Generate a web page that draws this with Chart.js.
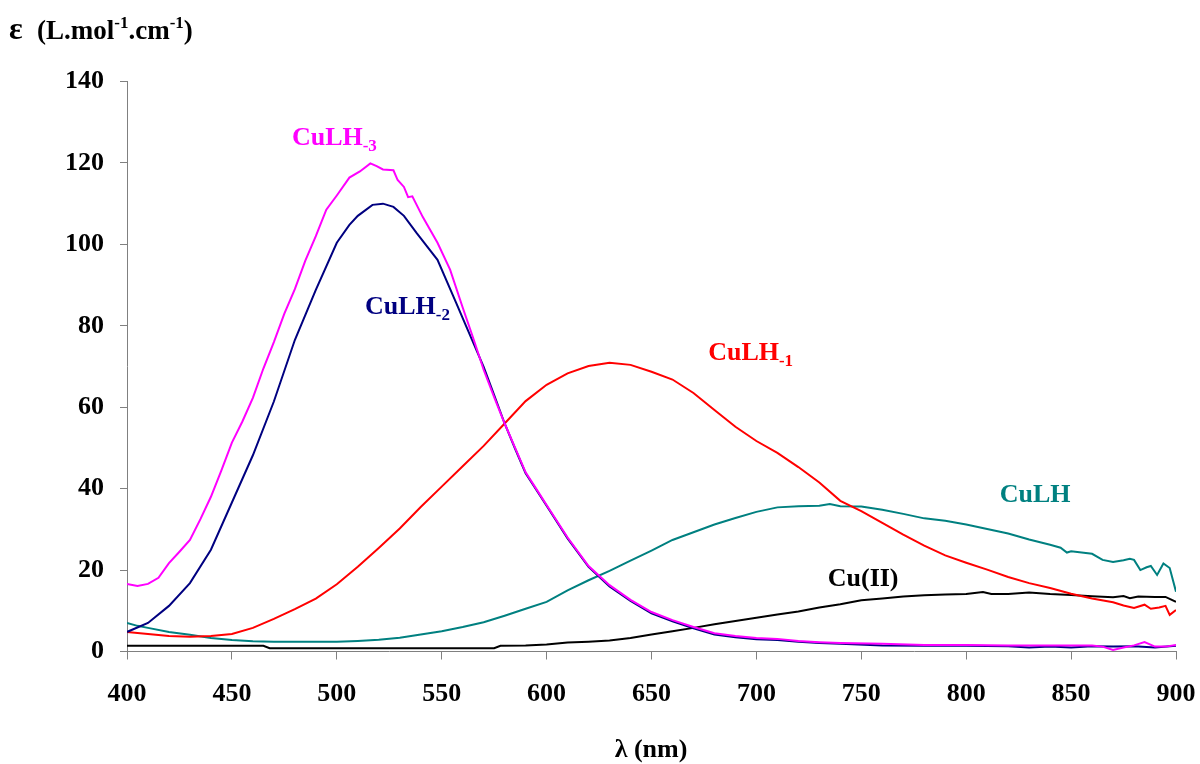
<!DOCTYPE html>
<html>
<head>
<meta charset="utf-8">
<script src="https://cdn.jsdelivr.net/npm/chart.js@4/dist/chart.umd.min.js"></script>
<style>
  html, body { margin: 0; padding: 0; background: #fff; }
  canvas { display: block; }
</style>
</head>
<body>
<canvas id="chart" width="1200" height="764"></canvas>
<script>
// ── Data ─────────────────────────────────────────────────────────────────────
const xTicks = [400, 450, 500, 550, 600, 650, 700, 750, 800, 850, 900];
const yTicks = [0, 20, 40, 60, 80, 100, 120, 140];

const culh3Nm  = [400,405,410,415,420,425,430,435,440,445,450,455,460,465,470,475,480,485,490,495,500,506,511,516,519,522,527,529,532,534,536,541,548,554,560,565,570,575,580,585,590,595,600,610,620,630,640,650,660,670,680,690,700,710,720,730,740,760,780,800,820,840,860,865,870,875,880,885,890,895,900];
const culh3Eps = [16.6,16.1,16.6,18.1,21.7,24.5,27.4,32.5,38,44.5,51.3,56.5,62.3,69.5,76,83,89,96,102,108.5,112,116.4,117.9,119.9,119.2,118.4,118.2,115.8,114.1,111.6,111.8,106.7,100.4,93.8,84.5,77,69.2,62.5,56,50,44,40,36,28,21,16.3,12.7,9.7,7.7,6,4.5,3.8,3.3,3.1,2.6,2.3,2.1,1.9,1.6,1.6,1.5,1.5,1.5,1.2,0.4,1.0,1.5,2.3,1.2,1.2,1.6];

const culh2Nm  = [400,410,420,430,440,450,460,470,480,490,500,506,510,517,522,527,532,538,548,557,562,570,575,580,585,590,595,600,610,620,630,640,650,660,670,680,690,700,710,720,730,740,760,780,800,820,830,840,850,860,870,880,890,900];
const culh2Eps = [4.8,7,11.2,16.8,25,36.6,48.2,61.4,76.5,88.8,100.4,104.8,107,109.7,110,109.2,107,102.8,96.2,85.5,79.5,69.9,63,56,49.8,43.8,39.8,35.8,27.8,20.8,16,12.4,9.4,7.4,5.7,4.2,3.5,3,2.8,2.4,2.1,1.9,1.5,1.4,1.4,1.3,1.0,1.2,1.0,1.3,1.2,1.3,1.0,1.4];

const culh1Nm  = [400,410,420,430,440,450,460,470,480,490,500,510,520,530,540,550,560,570,580,590,600,610,620,630,640,650,660,670,680,690,700,710,720,730,740,750,760,770,780,790,800,810,820,830,840,850,860,870,875,880,885,888,892,895,897,900];
const culh1Eps = [4.8,4.3,3.8,3.6,3.8,4.3,5.8,8,10.4,13,16.5,20.8,25.4,30.2,35.5,40.5,45.5,50.5,56,61.5,65.5,68.3,70.1,70.9,70.4,68.7,66.8,63.5,59.3,55.2,51.7,48.8,45.3,41.5,37,34.5,31.6,28.7,26,23.6,21.8,20.1,18.3,16.8,15.6,14.2,13,12.1,11.3,10.7,11.5,10.5,10.8,11.2,9.0,10.2];

const culhNm  = [400,405,410,420,430,440,450,460,470,480,490,500,510,520,530,540,550,560,570,580,590,600,610,620,630,640,650,660,670,680,690,700,710,720,730,735,740,750,760,770,780,790,800,810,820,830,840,845,848,850,860,865,870,875,878,880,883,886,888,891,894,897,900];
const culhEps = [7,6.3,5.8,4.8,4.1,3.3,2.8,2.5,2.4,2.4,2.4,2.4,2.6,2.9,3.4,4.2,5,6,7.2,8.8,10.5,12.2,15,17.5,19.8,22.3,24.8,27.4,29.3,31.2,32.8,34.3,35.4,35.7,35.8,36.2,35.7,35.6,34.8,33.8,32.7,32.1,31.2,30.1,29,27.5,26.2,25.5,24.3,24.6,24,22.5,22,22.4,22.8,22.5,20,20.7,21,18.8,21.6,20.5,14.7];

const cuNm  = [400,465,468,575,578,590,600,610,620,630,640,650,660,670,680,690,700,710,720,730,740,750,760,770,780,790,800,808,812,820,830,840,850,860,870,875,878,882,890,895,900];
const cuEps = [1.4,1.4,0.8,0.8,1.4,1.5,1.7,2.2,2.4,2.7,3.3,4.2,5,5.8,6.7,7.5,8.3,9.1,9.8,10.8,11.6,12.6,13,13.5,13.8,14,14.1,14.6,14.1,14.1,14.5,14.1,13.9,13.6,13.3,13.6,13.1,13.5,13.4,13.4,12.2];

// ── Series styling ───────────────────────────────────────────────────────────
const FONT = '"Liberation Serif", "Times New Roman", serif';

const series = [
  { name: 'Cu(II)',  nm: cuNm,    eps: cuEps,    color: '#000000', order: 5 },
  { name: 'CuLH',    nm: culhNm,  eps: culhEps,  color: '#008080', order: 4 },
  { name: 'CuLH-1',  nm: culh1Nm, eps: culh1Eps, color: '#FF0000', order: 3 },
  { name: 'CuLH-2',  nm: culh2Nm, eps: culh2Eps, color: '#000080', order: 2 },
  { name: 'CuLH-3',  nm: culh3Nm, eps: culh3Eps, color: '#FF00FF', order: 1 },
];

// curve labels: anchor in data units (nm, eps), text plus optional subscript
const curveLabels = [
  { at: [478.6, 124.5], main: 'CuLH', sub: '-3', color: '#FF00FF' },
  { at: [513.4, 83],    main: 'CuLH', sub: '-2', color: '#000080' },
  { at: [677,   71.5],  main: 'CuLH', sub: '-1', color: '#FF0000' },
  { at: [816,   36.6],  main: 'CuLH', sub: '',   color: '#008080' },
  { at: [734,   16],    main: 'Cu(II)', sub: '', color: '#000000' },
];

// ── Text plugin ──────────────────────────────────────────────────────────────
const textPlugin = {
  id: 'texts',
  afterDraw(chart) {
    const { ctx, scales: { x, y } } = chart;
    ctx.save();
    ctx.textBaseline = 'alphabetic';
    ctx.textAlign = 'left';

    curveLabels.forEach(l => {
      const px = x.getPixelForValue(l.at[0]);
      const py = y.getPixelForValue(l.at[1]);
      ctx.fillStyle = l.color;
      ctx.font = `bold 26px ${FONT}`;
      ctx.fillText(l.main, px, py);
      if (l.sub) {
        const w = ctx.measureText(l.main).width;
        ctx.font = `bold 17px ${FONT}`;
        ctx.fillText(l.sub, px + w, py + 6);
      }
    });

    // y axis title: ε (L.mol-1.cm-1)
    ctx.fillStyle = '#000';
    let cx = 9;
    const by = 39;
    ctx.font = `bold 32px ${FONT}`;
    ctx.fillText('ε', cx, by);
    cx = 37;
    const parts = [['(L.mol', 0], ['-1', 1], ['.cm', 0], ['-1', 1], [')', 0]];
    parts.forEach(([t, sup]) => {
      ctx.font = sup ? `bold 17px ${FONT}` : `bold 27px ${FONT}`;
      ctx.fillText(t, cx, sup ? by - 11 : by);
      cx += ctx.measureText(t).width;
    });

    // x axis title
    ctx.textAlign = 'center';
    ctx.font = `bold 26px ${FONT}`;
    ctx.fillText('λ (nm)', 651, 757);
    ctx.restore();
  }
};

// ── Chart ────────────────────────────────────────────────────────────────────
const tickFont = { family: FONT, size: 26, weight: 'bold' };

new Chart(document.getElementById('chart'), {
  type: 'scatter',
  data: {
    datasets: series.map(s => ({
      label: s.name,
      data: s.nm.map((v, i) => ({ x: v, y: s.eps[i] })),
      showLine: true,
      borderColor: s.color,
      backgroundColor: s.color,
      borderWidth: 2,
      pointRadius: 0,
      tension: 0,
      order: s.order,
    }))
  },
  options: {
    responsive: false,
    animation: false,
    layout: { padding: { top: 81.5, right: 24, left: 0, bottom: 0 } },
    plugins: { legend: { display: false }, tooltip: { enabled: false } },
    scales: {
      x: {
        type: 'linear',
        min: xTicks[0],
        max: xTicks[xTicks.length - 1],
        afterBuildTicks: s => { s.ticks = xTicks.map(v => ({ value: v })); },
        ticks: { font: tickFont, color: '#000', padding: 19, maxRotation: 0 },
        grid: { drawOnChartArea: false, drawTicks: true, tickLength: 8, color: '#808080' },
        border: { color: '#808080', width: 1 },
        afterFit: s => { s.height = 112.5; s.paddingLeft = 0; s.paddingRight = 0; },
      },
      y: {
        min: yTicks[0],
        max: yTicks[yTicks.length - 1],
        afterBuildTicks: s => { s.ticks = yTicks.map(v => ({ value: v })); },
        ticks: { font: tickFont, color: '#000', padding: 16 },
        grid: { drawOnChartArea: false, drawTicks: true, tickLength: 7, color: '#808080' },
        border: { color: '#808080', width: 1 },
        afterFit: s => { s.width = 127; s.paddingTop = 0; s.paddingBottom = 0; },
      }
    }
  },
  plugins: [textPlugin]
});
</script>
</body>
</html>
